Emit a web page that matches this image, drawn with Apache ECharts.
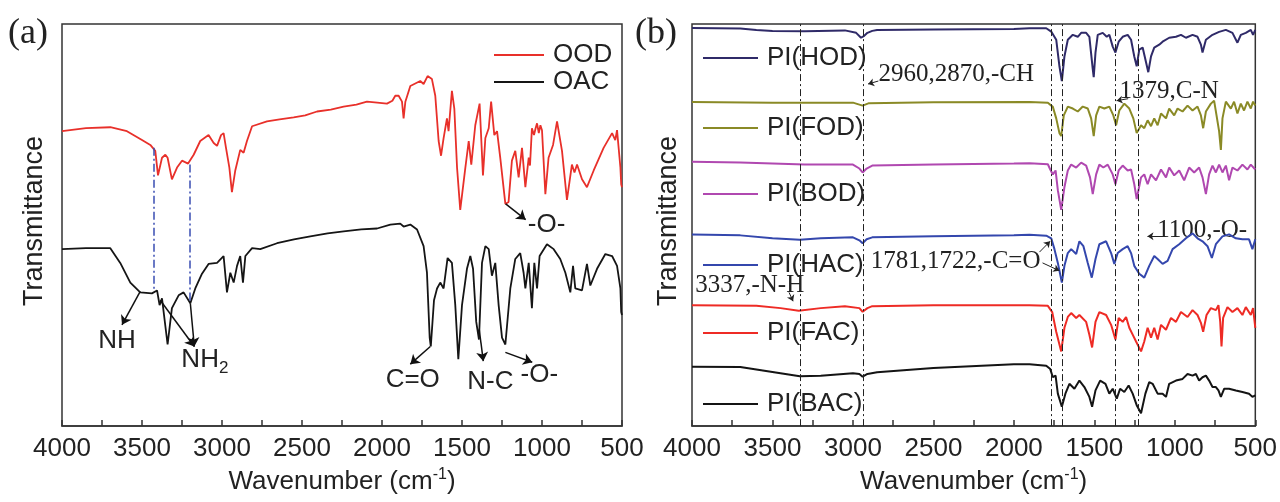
<!DOCTYPE html>
<html>
<head>
<meta charset="utf-8">
<script src="https://cdn.jsdelivr.net/npm/echarts@6/dist/echarts.min.js"></script>
<style>
  html, body { margin: 0; padding: 0; background: #fff; }
  #c { width: 1280px; height: 502px; }
</style>
</head>
<body>
<div id="c"></div>
<script>
// FTIR spectra, [wavenumber (cm-1), transmittance (a.u., curves stacked with offsets)]

// (a) monomers
const ood = [[4000,300],[3850,303],[3698,304],[3594,300],[3500,291],[3448,286],[3417,280],[3400,255],[3375,273],[3354,276],[3340,273],[3313,251],[3281,263],[3250,270],[3212,267],[3177,276],[3136,290],[3084,296],[3052,288],[3031,285],[3006,296],[2990,298],[2975,283],[2954,263],[2938,238],[2917,260],[2886,281],[2865,278],[2844,290],[2812,305],[2719,310],[2640,312],[2552,314],[2480,316],[2406,320],[2320,322],[2240,325],[2160,327],[2094,330],[2030,329],[1969,328],[1935,331],[1917,336],[1896,336],[1875,330],[1865,313],[1854,330],[1823,346],[1761,351],[1740,348],[1715,356],[1688,353],[1667,336],[1646,290],[1631,275],[1615,293],[1594,313],[1584,300],[1563,341],[1548,323],[1531,263],[1511,220],[1479,263],[1458,290],[1442,266],[1417,306],[1390,328],[1369,255],[1354,293],[1333,303],[1318,330],[1298,296],[1281,300],[1261,273],[1229,226],[1209,228],[1188,270],[1167,280],[1146,253],[1125,283],[1104,243],[1083,273],[1075,265],[1063,303],[1050,296],[1040,303],[1031,308],[1020,298],[1010,306],[1000,301],[979,236],[959,273],[931,286],[906,310],[875,280],[844,230],[813,266],[797,258],[781,266],[750,251],[719,243],[677,260],[615,283],[562,298],[542,291],[531,301],[510,263],[505,246],[500,243]];
const oac = [[4000,180],[3850,181],[3698,181],[3636,166],[3573,146],[3511,136],[3438,135],[3406,138],[3390,123],[3375,130],[3340,83],[3313,120],[3271,133],[3240,136],[3198,125],[3167,140],[3125,155],[3084,165],[3031,166],[2990,173],[2969,136],[2948,156],[2927,146],[2906,163],[2886,173],[2869,146],[2854,173],[2812,181],[2761,180],[2656,186],[2550,190],[2448,193],[2340,196],[2240,198],[2130,200],[2031,201],[1948,205],[1886,206],[1865,203],[1823,205],[1781,200],[1740,183],[1719,156],[1702,90],[1695,81],[1675,128],[1656,140],[1636,146],[1615,140],[1590,171],[1563,166],[1542,123],[1523,68],[1500,123],[1469,160],[1448,173],[1431,160],[1411,106],[1394,88],[1375,166],[1354,183],[1333,180],[1313,153],[1292,166],[1271,123],[1250,90],[1229,83],[1198,140],[1167,170],[1136,176],[1115,156],[1104,140],[1083,166],[1063,120],[1048,166],[1031,140],[1015,173],[969,185],[927,180],[886,170],[854,156],[823,136],[806,163],[792,140],[750,138],[719,165],[698,143],[656,160],[604,175],[562,173],[531,163],[510,140],[505,116],[500,113]];

// (b) polyimides
const piHOD = [[4000,405],[3700,404.5],[3600,403],[3500,402],[3300,401.5],[3050,402.5],[2980,400],[2950,395],[2930,397],[2910,400],[2880,402],[2850,403],[2500,403.5],[2000,404],[1903,404.7],[1799,404.7],[1768,401.3],[1737,393],[1717,366],[1702,351],[1686,376],[1665,393],[1634,398],[1603,396],[1582,400],[1551,400],[1531,396],[1510,363],[1504,355],[1493,380],[1479,398],[1448,400],[1423,396],[1407,398],[1386,386],[1369,380],[1349,391],[1324,396],[1293,398],[1272,393],[1252,376],[1237,366],[1221,383],[1200,385],[1179,370],[1165,360],[1148,376],[1128,385],[1097,388],[1076,391],[1035,395],[993,396],[962,398],[931,395],[890,398],[859,396],[838,388],[828,380],[807,393],[766,398],[725,401],[683,403],[642,400],[611,390],[590,398],[559,400],[528,403],[514,398],[500,403]];
const piFOD = [[4000,329.7],[3500,329],[3000,329],[2960,327],[2940,326],[2900,328.5],[2500,329.5],[1903,329.7],[1789,329],[1758,324.7],[1737,313],[1717,298],[1706,295],[1690,316],[1665,325],[1634,323],[1603,320],[1572,325],[1541,323],[1520,313],[1504,295],[1489,316],[1469,325],[1438,323],[1407,325],[1382,316],[1365,306],[1345,321],[1314,328],[1283,323],[1258,313],[1237,298],[1210,306],[1190,303],[1169,311],[1148,305],[1128,313],[1107,306],[1086,318],[1055,313],[1035,323],[1004,316],[983,323],[952,320],[921,326],[890,321],[859,325],[838,316],[824,303],[807,320],[776,328],[756,331],[741,316],[725,300],[714,281],[704,313],[683,330],[652,323],[632,330],[611,318],[590,328],[570,321],[549,330],[528,323],[514,330],[500,326]];
const piBOD = [[4000,269],[3700,268],[3500,267],[3300,266],[3000,266],[2960,262],[2940,258],[2915,262],[2880,265],[2500,266],[2000,267],[1903,267.3],[1789,266.3],[1774,261],[1758,256],[1741,260],[1727,240],[1706,220],[1686,243],[1665,260],[1644,266],[1613,263],[1582,268],[1551,265],[1527,253],[1510,236],[1489,256],[1469,266],[1444,263],[1417,266],[1386,256],[1369,246],[1349,260],[1324,265],[1293,260],[1272,261],[1252,246],[1237,231],[1210,253],[1190,256],[1169,246],[1148,256],[1117,250],[1086,261],[1055,253],[1035,263],[1004,255],[973,260],[942,250],[911,263],[880,258],[849,263],[828,253],[807,236],[787,256],[766,265],[745,258],[725,266],[704,258],[683,265],[663,250],[642,263],[611,260],[580,266],[549,261],[528,266],[500,261]];
const piHAC = [[4000,195],[3700,194],[3500,191],[3330,189.5],[3200,191],[3000,192],[2960,189],[2940,186],[2915,190],[2880,192],[2500,193],[2000,194],[1903,194.7],[1799,193.7],[1768,191],[1748,180],[1727,166],[1702,146],[1686,163],[1665,176],[1644,180],[1613,175],[1593,188],[1568,183],[1541,166],[1516,151],[1493,170],[1469,185],[1427,188],[1396,176],[1376,165],[1355,176],[1324,180],[1293,183],[1272,176],[1252,163],[1221,155],[1190,151],[1159,163],[1128,173],[1107,170],[1076,165],[1045,168],[1014,180],[973,185],[931,191],[890,196],[859,191],[828,188],[797,183],[770,171],[745,185],[704,193],[663,195],[621,191],[580,190],[539,190],[518,180],[500,190]];
const piFAC = [[4000,123],[3600,122.5],[3450,120],[3337,117.3],[3200,120],[3050,122],[2960,120],[2940,116.3],[2910,120],[2880,122],[2500,123],[1903,123],[1789,122.3],[1762,116],[1737,96],[1706,76],[1686,100],[1665,111],[1644,115],[1613,110],[1593,113],[1551,106],[1531,93],[1514,80],[1493,106],[1469,116],[1427,113],[1396,103],[1369,88],[1349,110],[1324,106],[1303,111],[1283,100],[1262,93],[1241,86],[1210,76],[1190,86],[1169,100],[1148,90],[1128,100],[1107,88],[1086,103],[1055,98],[1024,110],[993,106],[962,116],[921,111],[890,118],[859,113],[838,105],[824,96],[803,113],[776,120],[745,118],[729,123],[718,106],[710,81],[700,110],[673,121],[642,116],[611,120],[580,113],[559,121],[528,113],[514,120],[500,100]];
const piBAC = [[4000,60.3],[3700,60],[3500,55],[3330,50.7],[3200,51.3],[3000,53.7],[2960,53],[2940,50.3],[2910,53],[2850,54.7],[2500,59],[2000,63],[1903,63],[1799,61.3],[1774,58],[1758,49.7],[1741,51.3],[1727,33],[1702,19.7],[1680,33],[1655,43],[1624,38],[1593,46.3],[1562,39.7],[1531,29.7],[1514,19.7],[1493,36.3],[1464,46.3],[1431,43],[1407,33],[1386,38],[1361,28],[1340,38],[1314,34.7],[1287,41.3],[1262,33],[1237,21.3],[1210,13],[1183,33],[1159,44.7],[1138,43],[1107,33],[1076,33],[1055,29.7],[1035,43],[993,46.3],[952,48],[921,53],[890,51.3],[869,53],[849,46.3],[828,49.7],[807,51.3],[787,46.3],[766,39.7],[745,39.7],[729,36.3],[714,29.7],[693,38],[663,38],[621,36.3],[580,34.7],[539,33],[518,29.7],[500,31.3]];

const namesA = ['OOD', 'OAC'];
const namesB = ['PI(HOD)', 'PI(FOD)', 'PI(BOD)', 'PI(HAC)', 'PI(FAC)', 'PI(BAC)'];
const colorsA = ['#e8302a', '#151515'];
const colorsB = ['#2f2a68', '#8a8a26', '#b048b0', '#3447ad', '#ee2b25', '#141414'];

// guide lines: (a) between the two spectra, (b) full height
const guidesA = [[[3427, 283], [3427, 137]], [[3204, 266], [3204, 125]]];
const guidesB = [3330, 2935, 1765, 1700, 1370, 1225];

// band assignments, anchored in data space
const arrowsA = [
  [[3511, 137], [3625, 103]],
  [[3386, 128], [3173, 81]],
  [[3198, 125], [3173, 81]],
  [[1698, 81], [1823, 63]],
  [[1392, 98], [1367, 66]],
  [[1229, 75], [1061, 65]],
  [[1227, 226], [1102, 210]]
];
const labelsA = [
  { text: 'NH', at: [3773, 87], align: 'left' },
  { text: 'NH{s|2}', at: [3254, 67], align: 'left' },
  { text: 'C=O', at: [1808, 47], align: 'center' },
  { text: 'N-C', at: [1323, 45], align: 'center' },
  { text: '-O-', at: [1017, 52], align: 'center' },
  { text: '-O-', at: [971, 205], align: 'center' }
];
const arrowsB = [
  [[2842, 351], [2906, 348]],
  [[1290, 333], [1362, 331]],
  [[1065, 193], [1170, 193]],
  [[1841, 177], [1775, 188]],
  [[1822, 166], [1717, 158]],
  [[3397, 136], [3372, 127]]
];
const labelsB = [
  { text: '2960,2870,-CH', at: [2842, 358] },
  { text: '1379,C-N', at: [1344, 340] },
  { text: '1100,-O-', at: [1110, 199] },
  { text: '1781,1722,-C=O', at: [2889, 167] },
  { text: '3337,-N-H', at: [3980, 143] }
];

const SANS = "'Liberation Sans', Arial, Helvetica, sans-serif";
const SERIF = "'Liberation Serif', 'Times New Roman', serif";
const INK = '#222';

const chart = echarts.init(document.getElementById('c'), null, { renderer: 'canvas' });

function xAxis(i) {
  return {
    gridIndex: i, type: 'value', min: 500, max: 4000, interval: 250, inverse: true,
    axisLine: { show: true, onZero: false, lineStyle: { color: '#333', width: 1.5 } },
    axisTick: { show: true, inside: true, length: 6, lineStyle: { color: '#333', width: 1.5 } },
    axisLabel: {
      show: true, interval: 0, margin: 10, fontSize: 26, fontFamily: SANS, color: INK,
      formatter: v => (v % 500 === 0 ? String(v) : '')
    },
    splitLine: { show: false },
    name: 'Wavenumber (cm{sup|-1})', nameLocation: 'middle', nameGap: 37,
    nameTextStyle: {
      fontSize: 26, fontFamily: SANS, color: INK, lineHeight: 30,
      rich: { sup: { fontSize: 16, lineHeight: 16, verticalAlign: 'top', fontFamily: SANS, color: INK } }
    }
  };
}
function yAxis(i) {
  return {
    gridIndex: i, type: 'value', min: 0, max: 409,
    axisLine: { show: false }, axisTick: { show: false }, axisLabel: { show: false },
    splitLine: { show: false }
  };
}
function legendItem(name, left, centerY, lineW) {
  return {
    data: [name], left: left, top: centerY - 15, orient: 'vertical', padding: 0,
    icon: 'rect', itemWidth: lineW, itemHeight: 2, selectedMode: false,
    textStyle: { fontSize: 26, fontFamily: SANS, color: INK, lineHeight: 30, padding: [0, 0, 0, 4] }
  };
}
function spectrum(name, data, color, idx, width) {
  return {
    name, type: 'line', data, xAxisIndex: idx, yAxisIndex: idx,
    showSymbol: false, symbol: 'none', silent: true,
    lineStyle: { color, width }, itemStyle: { color }
  };
}

const legendTopsA = [55, 82];
const legendTopsB = [58, 128, 194, 265, 333, 404];

const seriesA = [spectrum(namesA[0], ood, colorsA[0], 0, 1.8), spectrum(namesA[1], oac, colorsA[1], 0, 1.8)];
const seriesB = [piHOD, piFOD, piBOD, piHAC, piFAC, piBAC].map((d, k) => spectrum(namesB[k], d, colorsB[k], 1, 2));

seriesA[0].markLine = {
  silent: true, symbol: ['none', 'none'], label: { show: false },
  lineStyle: { color: '#3a4db3', width: 1.5, type: [8, 3, 2, 3] },
  data: guidesA.map(g => [{ coord: g[0] }, { coord: g[1] }])
};
seriesA[1].markLine = {
  silent: true, symbol: ['none', 'arrow'], symbolSize: 9, label: { show: false },
  lineStyle: { color: '#111', width: 1.5, type: 'solid' },
  data: arrowsA.map(a => [{ coord: a[0] }, { coord: a[1] }])
};
seriesB[5].markLine = {
  silent: true, symbol: ['none', 'none'], label: { show: false },
  lineStyle: { color: '#222', width: 1, type: [7, 3, 2, 3] },
  data: guidesB.map(v => ({ xAxis: v }))
};
seriesB[4].markLine = {
  silent: true, symbol: ['none', 'arrow'], symbolSize: 6, label: { show: false },
  lineStyle: { color: '#222', width: 1, type: 'solid' },
  data: arrowsB.map(a => [{ coord: a[0] }, { coord: a[1] }])
};

chart.setOption({
  animation: false,
  backgroundColor: '#fff',
  grid: [
    { left: 62, top: 24, width: 560, height: 409, show: true, borderColor: '#333', borderWidth: 1.5, backgroundColor: 'transparent' },
    { left: 692, top: 24, width: 565, height: 409, show: true, borderColor: '#333', borderWidth: 1.5, backgroundColor: 'transparent' }
  ],
  xAxis: [xAxis(0), xAxis(1)],
  yAxis: [yAxis(0), yAxis(1)],
  legend: [
    ...namesA.map((n, k) => legendItem(n, 494, legendTopsA[k], 50)),
    ...namesB.map((n, k) => legendItem(n, 703, legendTopsB[k], 55))
  ],
  series: [...seriesA, ...seriesB]
});

const toPx = (g, p) => chart.convertToPixel({ xAxisIndex: g, yAxisIndex: g }, p);
const graphics = [
  { type: 'text', x: 8, y: 34, style: { text: '(a)', fontSize: 36, fontFamily: SERIF, fill: INK, align: 'left', verticalAlign: 'middle' } },
  { type: 'text', x: 635, y: 34, style: { text: '(b)', fontSize: 36, fontFamily: SERIF, fill: INK, align: 'left', verticalAlign: 'middle' } },
  // vertical axis titles
  { type: 'text', x: 35, y: 221, rotation: Math.PI / 2, style: { text: 'Transmittance', fontSize: 27, fontFamily: SANS, fill: INK, align: 'center', verticalAlign: 'middle' } },
  { type: 'text', x: 669, y: 221, rotation: Math.PI / 2, style: { text: 'Transmittance', fontSize: 27, fontFamily: SANS, fill: INK, align: 'center', verticalAlign: 'middle' } }
];
labelsA.forEach(l => {
  const p = toPx(0, l.at);
  graphics.push({
    type: 'text', x: p[0], y: p[1], silent: true,
    style: {
      text: l.text, fontSize: 26, fontFamily: SANS, fill: INK, align: l.align, verticalAlign: 'middle',
      lineHeight: 34,
      rich: { s: { fontSize: 17, lineHeight: 17, verticalAlign: 'bottom', fontFamily: SANS, fill: INK } }
    }
  });
});
labelsB.forEach(l => {
  const p = toPx(1, l.at);
  graphics.push({
    type: 'text', x: p[0], y: p[1], silent: true,
    style: { text: l.text, fontSize: 25, fontFamily: SERIF, fill: INK, align: 'left', verticalAlign: 'middle' }
  });
});
chart.setOption({ graphic: graphics });
</script>
</body>
</html>
